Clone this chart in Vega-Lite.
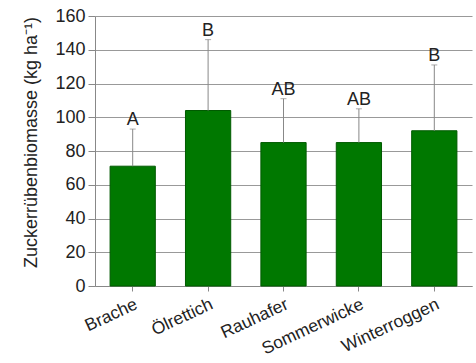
{
  "$schema": "https://vega.github.io/schema/vega-lite/v6.json",
  "width": 377,
  "height": 270,
  "autosize": {"type": "none"},
  "padding": {"left": 95, "top": 16, "right": 4, "bottom": 77},
  "background": "white",
  "config": {
    "view": {"stroke": null},
    "font": "Liberation Sans"
  },
  "data": {
    "values": [
      {"variant": "Brache", "mean": 71, "upper": 93, "group": "A"},
      {"variant": "Ölrettich", "mean": 104, "upper": 146, "group": "B"},
      {"variant": "Rauhafer", "mean": 85, "upper": 111, "group": "AB"},
      {"variant": "Sommerwicke", "mean": 85, "upper": 105, "group": "AB"},
      {"variant": "Winterroggen", "mean": 92, "upper": 131, "group": "B"}
    ]
  },
  "encoding": {
    "x": {
      "field": "variant",
      "type": "nominal",
      "sort": null,
      "scale": {"paddingInner": 0.4, "paddingOuter": 0.2},
      "axis": {
        "title": null,
        "labelAngle": -25,
        "labelFontSize": 17.5,
        "labelColor": "#222",
        "labelPadding": 4,
        "domainColor": "#888",
        "tickColor": "#888",
        "tickSize": 5,
        "grid": false
      }
    },
    "y": {
      "field": "mean",
      "type": "quantitative",
      "scale": {"domain": [0, 160]},
      "axis": {
        "title": "Zuckerrübenbiomasse (kg ha⁻¹)",
        "titleFontSize": 18,
        "titleFontWeight": "normal",
        "titleColor": "#222",
        "titlePadding": 14,
        "titleY": 126,
        "values": [0, 20, 40, 60, 80, 100, 120, 140, 160],
        "labelOverlap": false,
        "labelFontSize": 18,
        "labelColor": "#222",
        "labelPadding": 3,
        "gridColor": "#999",
        "domainColor": "#888",
        "tickColor": "#888",
        "tickSize": 7
      }
    }
  },
  "layer": [
    {
      "mark": {"type": "bar", "color": "#007800", "stroke": "#005a00", "strokeWidth": 1}
    },
    {
      "mark": {"type": "rule", "color": "#888", "strokeWidth": 1},
      "encoding": {
        "y2": {"field": "upper"}
      }
    },
    {
      "mark": {"type": "tick", "color": "#888", "size": 6, "thickness": 1, "orient": "horizontal"},
      "encoding": {
        "y": {"field": "upper", "type": "quantitative"}
      }
    },
    {
      "mark": {"type": "text", "fontSize": 18, "color": "#222", "baseline": "bottom", "dy": 0},
      "encoding": {
        "y": {"field": "upper", "type": "quantitative"},
        "text": {"field": "group"}
      }
    }
  ]
}
